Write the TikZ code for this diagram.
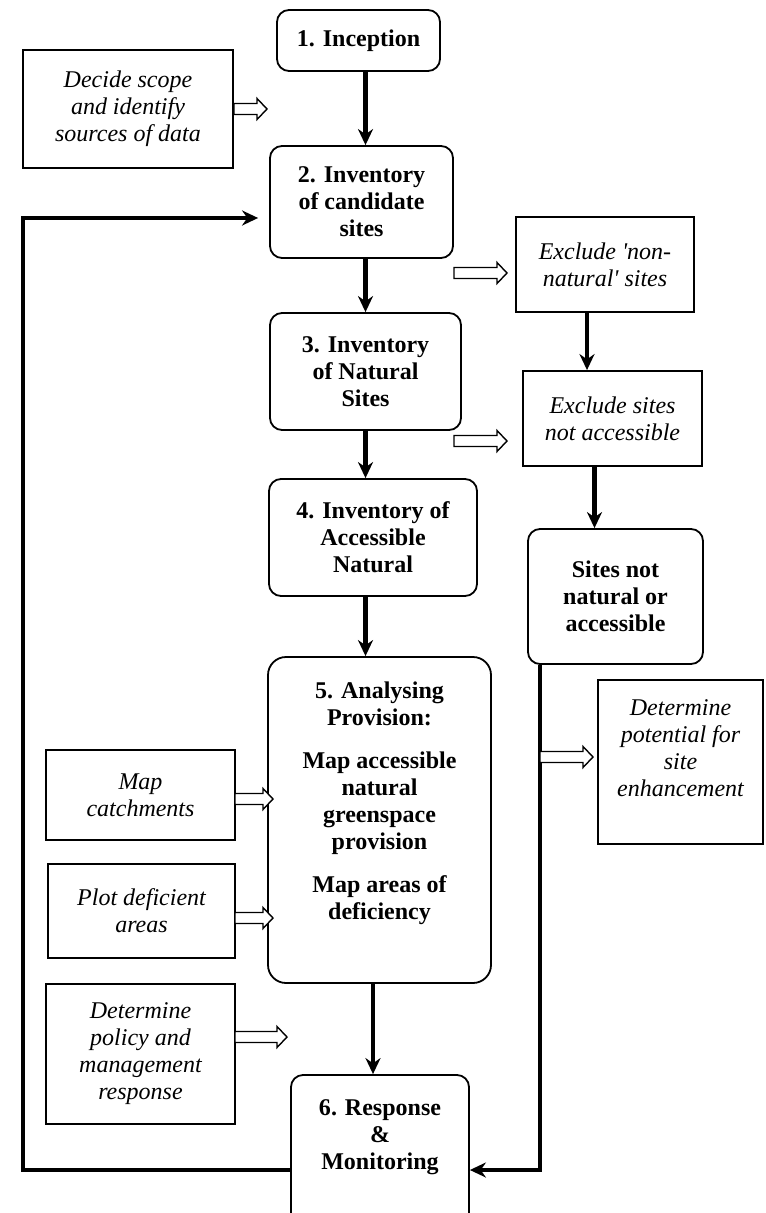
\documentclass[tikz,border=0pt]{standalone}
\usepackage{fontspec}
\setmainfont{Liberation Serif}
\usetikzlibrary{arrows.meta,calc}
\newcommand{\pushup}[1]{\\[#1]\mbox{}}

\begin{document}
\begin{tikzpicture}[
  x=0.5pt, y=-0.5pt,
  stage/.style={draw, line width=0.9pt, rounded corners=6pt, align=center, inner sep=0pt, font=\fontsize{12}{13.5}\selectfont\bfseries},
  note/.style={draw, line width=0.9pt, align=center, inner sep=0pt, font=\fontsize{12}{13.5}\selectfont\itshape},
  pf/.style={line width=2.3pt, -{Stealth[length=8pt,width=7.5pt]}},
  hol/.style={draw, fill=white, line width=0.7pt, to path={
    ($(\tikztostart)+(0,5.5)$) -- ($(\tikztotarget)+(-10,5.5)$) -- ($(\tikztotarget)+(-10,10.5)$)
    -- (\tikztotarget) -- ($(\tikztotarget)+(-10,-10.5)$) -- ($(\tikztotarget)+(-10,-5.5)$)
    -- ($(\tikztostart)+(0,-5.5)$) -- cycle}}
]
\useasboundingbox (0,0) rectangle (765,1213);

% main stages
\node[stage, minimum width=81.5pt, minimum height=30.5pt] (b1) at (358.5,40.5) {1. Inception};
\node[stage, minimum width=91.5pt, minimum height=56pt] (b2) at (361.5,202) {2. Inventory\\of candidate\\sites};
\node[stage, minimum width=95.5pt, minimum height=58.5pt] (b3) at (365.5,371.5) {3. Inventory\\of Natural\\Sites};
\node[stage, minimum width=104pt, minimum height=58.5pt] (b4) at (373,537.5) {4. Inventory of\\Accessible\\Natural};
\node[stage, rounded corners=9pt, minimum width=111.5pt, minimum height=163pt] (b5) at (379.5,820)
  {5. Analysing\\Provision:\\[8pt]Map accessible\\natural\\greenspace\\provision\\[8pt]Map areas of\\deficiency\pushup{6pt}};
\node[stage, minimum width=89pt, minimum height=75pt] (b6) at (380,1150) {6. Response\\\&\\Monitoring\pushup{2pt}};
\node[stage, minimum width=87.5pt, minimum height=67.5pt] (sn) at (615.5,596.5) {Sites not\\natural or\\accessible};

% side notes
\node[note, minimum width=105pt, minimum height=59pt] (dec) at (128,109) {Decide scope\\and identify\\sources of data};
\node[note, minimum width=89pt, minimum height=47.5pt] (ex1) at (605,264.5) {Exclude \textquotesingle non-\\natural\textquotesingle{} sites};
\node[note, minimum width=89.5pt, minimum height=47.5pt] (ex2) at (612.5,418.5) {Exclude sites\\not accessible};
\node[note, minimum width=82.5pt, minimum height=82pt] (pot) at (680.5,762) {Determine\\potential for\\site\\enhancement\pushup{0pt}};
\node[note, minimum width=94.5pt, minimum height=45pt] (mc) at (140.5,795) {Map\\catchments};
\node[note, minimum width=93.5pt, minimum height=47pt] (pd) at (141.5,911) {Plot deficient\\areas};
\node[note, minimum width=94.5pt, minimum height=70pt] (dp) at (140.5,1054) {Determine\\policy and\\management\\response};

% arrow ends
\coordinate (h1e) at (267,109);
\coordinate (h2s) at (454,273);  \coordinate (h2e) at (507,273);
\coordinate (h3s) at (454,441);  \coordinate (h3e) at (507,441);
\coordinate (h4s) at (235,799);  \coordinate (h4e) at (273,799);
\coordinate (h5s) at (235,918);  \coordinate (h5e) at (273,918);
\coordinate (h6s) at (235,1037); \coordinate (h6e) at (287,1037);
\coordinate (h7s) at (540,757);  \coordinate (h7e) at (593,757);
\coordinate (loopL) at (23,218);
\coordinate (loopR) at (540,1170);

% flow
\draw[pf] (b3.center |- b1.south) -- (b3.center |- b2.north);
\draw[pf] (b3.center |- b2.south) -- (b3.north);
\draw[pf] (b3.south) -- (b3.center |- b4.north);
\draw[pf] (b3.center |- b4.south) -- (b3.center |- b5.north);
\draw[pf] (b4.center |- b5.south) -- (b4.center |- b6.north);
\draw[pf] ([xshift=-9pt]ex1.south) -- ([xshift=-9pt]ex1.south |- ex2.north);
\draw[pf] ([xshift=-9pt]ex2.south) -- ([xshift=-9pt]ex2.south |- sn.north);
\draw[pf, shorten >=5.5pt] (b6.west |- loopR) -| (loopL) -- (b2.west |- loopL);
\draw[pf] (loopR |- sn.south) -- (loopR) -- (b6.east |- loopR);

% hollow arrows
\draw[hol] (dec.east) to (h1e);
\draw[hol] (h2s) to (h2e);
\draw[hol] (h3s) to (h3e);
\draw[hol] (h4s) to (h4e);
\draw[hol] (h5s) to (h5e);
\draw[hol] (h6s) to (h6e);
\draw[hol] (h7s) to (h7e);
\end{tikzpicture}
\end{document}
